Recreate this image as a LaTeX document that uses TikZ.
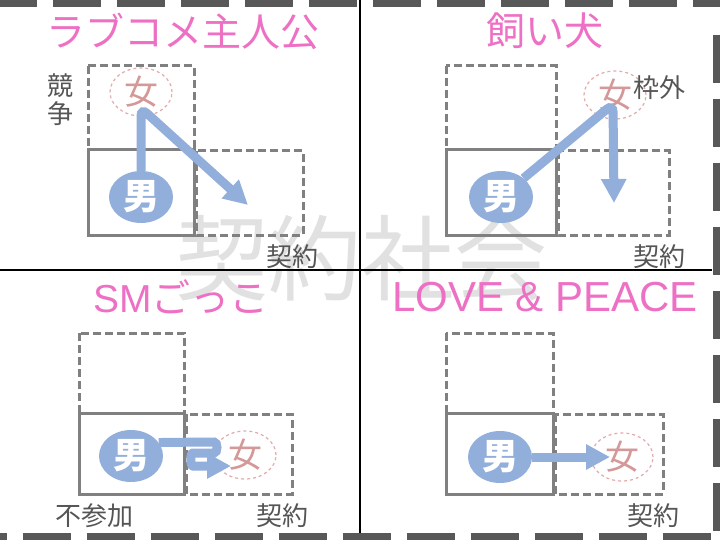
\documentclass[tikz,border=0pt]{standalone}
\usepackage{fontspec}
\setmainfont{Noto Sans CJK JP}
\newfontfamily\latinfont{Liberation Sans}
\usetikzlibrary{arrows.meta,shapes.geometric}
\definecolor{titlepink}{RGB}{238,112,196}
\definecolor{boxgray}{RGB}{128,128,128}
\definecolor{labelgray}{RGB}{85,85,85}
\definecolor{manblue}{RGB}{146,174,218}
\definecolor{womanline}{RGB}{226,170,170}
\definecolor{womantext}{RGB}{212,152,152}
\definecolor{wmgray}{RGB}{225,225,225}
\definecolor{framegray}{RGB}{88,88,88}
\tikzset{ttl/.style = {text=titlepink, font=\fontsize{39}{39}\selectfont, inner sep=0pt},
    lbl/.style = {text=labelgray, font=\fontsize{26}{28}\selectfont, inner sep=0pt},
    man/.style = {ellipse, fill=manblue, minimum width=64pt, minimum height=52pt, inner sep=0pt,
                  text=white, font=\fontsize{36}{36}\selectfont\bfseries},
    woman/.style = {ellipse, draw=womanline, dashed, line width=1.2pt, minimum width=62pt,
                  minimum height=48pt, inner sep=0pt, text=womantext, font=\fontsize{34}{34}\selectfont},
    arr/.style = {draw=manblue, line width=9pt, rounded corners=8pt, -{Triangle[length=24pt, width=24pt]}},
    edgeline/.style = {framegray, line width=7pt, dash pattern=on 48pt off 16pt}}

\begin{document}
\begin{tikzpicture}[x=1pt, y=-1pt]
    \useasboundingbox (0,0) rectangle (720,540);
    \node[text=wmgray, font=\fontsize{93}{93}\selectfont] (wm) at (361,258) {契約社会};
    \draw[line width=2pt] (360,0) -- (360,540);
    \draw[line width=2pt] (0,270) -- (712,270);
    \foreach \x/\y/\w/\h in {88/150/106/85, 446/150/110/85, 79/413/105/81, 446/413/107/81} {
        \draw[boxgray, line width=3pt, dash pattern=on 8pt off 4pt] (\x,\y-\h+1) rectangle (\x+\w,\y);
        \draw[boxgray, line width=3pt, dash pattern=on 8pt off 4pt] (\x+\w+2,\y+1) rectangle (\x+2*\w+3,\y+\h);
        \draw[boxgray, line width=3pt] (\x,\y) rectangle (\x+\w,\y+\h);
    }

    % ラブコメ主人公
    \node[ttl] (t1) at (183,31) {ラブコメ主人公};
    \node[woman] (w1) at (141,92) {女};
    \node[man] (m1) at (141,197) {男};
    \node[lbl, align=center] (c1) at (60,100) {競\\争};
    \node[lbl] (k1) at (292,257) {契約};
    \coordinate (b1) at (141,108);
    \coordinate (e1) at (248,205);
    \draw[arr] (m1) -- (b1) -- (e1);

    % 飼い犬
    \node[ttl] (t2) at (545,31) {飼い犬};
    \node[woman] (w2) at (615,95) {女};
    \node[lbl] (o2) at (659,88) {枠外};
    \node[man] (m2) at (501,197) {男};
    \node[lbl] (k2) at (659,257) {契約};
    \coordinate (b2) at (613,104);
    \coordinate (e2) at (614,203);
    \draw[arr] (m2) -- (b2) -- (e2);

    % SMごっこ
    \node[ttl] (t3) at (181,297) {{\latinfont SM}ごっこ};
    \node[man] (m3) at (131,456) {男};
    \node[woman] (w3) at (245,455) {女};
    \node[lbl] (n3) at (94,516) {不参加};
    \node[lbl] (k3) at (282,516) {契約};
    \coordinate (e3) at (231,466);
    \draw[arr] (m3.26) -- (206,442) .. controls (218,442) and (218,453) .. (206,453)
        -- (201,453) .. controls (190,453) and (190,466) .. (201,466) -- (e3);

    % LOVE & PEACE
    \node[ttl, font=\fontsize{42}{42}\selectfont\latinfont] (t4) at (545,297) {LOVE \& PEACE};
    \node[man] (m4) at (500,457) {男};
    \node[woman] (w4) at (622,457) {女};
    \node[lbl] (k4) at (653,516) {契約};
    \coordinate (e4) at (610,457);
    \draw[arr] (m4) -- (e4);

    \draw[edgeline] (-11,3.5) -- (720,3.5);
    \draw[edgeline] (716.5,35) -- (716.5,540);
    \draw[edgeline] (-41,536.5) -- (720,536.5);
\end{tikzpicture}
\end{document}
